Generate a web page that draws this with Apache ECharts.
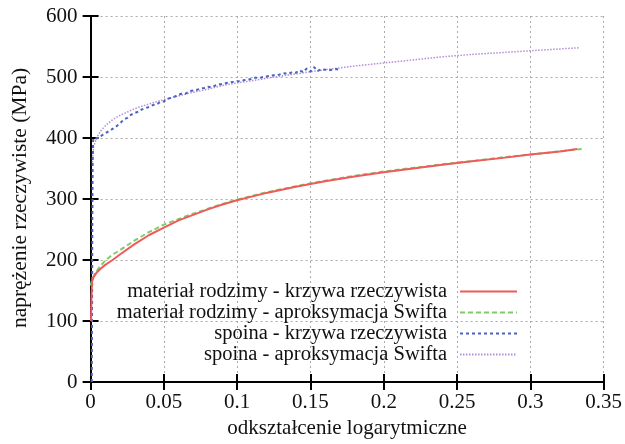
<!DOCTYPE html>
<html><head><meta charset="utf-8">
<script src="https://cdn.jsdelivr.net/npm/echarts@6/dist/echarts.min.js"></script>
<style>html,body{margin:0;padding:0;background:#fff}#c{width:625px;height:444px}</style>
</head><body><div id="c"></div>
<script>
var seriesNames = ['materiał rodzimy - krzywa rzeczywista','materiał rodzimy - aproksymacja Swifta','spoina - krzywa rzeczywista','spoina - aproksymacja Swifta'];
var xTitle = 'odkształcenie logarytmiczne';
var yTitle = 'naprężenie rzeczywiste (MPa)';

var baseRealEps = [0.0003,0.0006,0.001,0.002,0.004,0.007,0.01,0.015,0.02,0.03,0.04,0.05,0.06,0.07,0.08,0.09,0.1,0.12,0.14,0.16,0.18,0.2,0.22,0.24,0.26,0.28,0.3,0.32,0.332];
var baseRealVal = [100,140,165,172,179,186,192,200,209,226,241,253,265,274,283,291,298,310,320,329,337,344,350,356,362,367,373,378,382];

var baseSwiftEps = [0,0.001,0.003,0.006,0.01,0.015,0.02,0.03,0.04,0.05,0.06,0.07,0.08,0.09,0.1,0.12,0.14,0.16,0.18,0.2,0.22,0.24,0.26,0.28,0.3,0.32,0.335];
var baseSwiftVal = [158,168,178,188,199,209,216,232,246,258,267,276,284,292,299,311,321,330,338,345,351,357,362,368,373,378,382];

var weldRealEps = [0.0008,0.001,0.0012,0.0014,0.0017,0.002,0.003,0.004,0.005,0.0075,0.01,0.0125,0.015,0.0175,0.02,0.0225,0.025,0.0275,0.03,0.0325,0.035,0.0375,0.04,0.0425,0.045,0.0475,0.05,0.0525,0.055,0.0575,0.06,0.0625,0.065,0.0675,0.07,0.0725,0.075,0.0775,0.08,0.0825,0.085,0.0875,0.09,0.0925,0.095,0.0975,0.1,0.1025,0.105,0.1075,0.11,0.1125,0.115,0.1175,0.12,0.1225,0.125,0.1275,0.13,0.1325,0.135,0.1375,0.14,0.1425,0.145,0.1475,0.15,0.1525,0.155,0.1575,0.16,0.1625,0.165,0.1675,0.17];
var weldRealVal = [0,120,260,360,396,400,402,399,401,404,408,411,415,419,424,430,433,438,441,443,447,449,451,454,455,459,460,464,466,468,471,473,473,477,478,479,481,482,484,483,486,488,488,490,491,492,493,493,495,496,497,499,498,500,501,502,503,503,505,506,505,508,507,511,508,514,509,516,510,513,512,511,512,513,512];

var weldSwiftEps = [0.0012,0.002,0.004,0.007,0.01,0.015,0.02,0.03,0.04,0.05,0.06,0.07,0.08,0.09,0.1,0.12,0.14,0.16,0.18,0.2,0.22,0.24,0.26,0.28,0.3,0.32,0.334];
var weldSwiftVal = [360,385,400,412,420,430,437,448,456,463,469,475,480,486,490,498,505,512,518,523,528,533,537,540,543,546,548];

var xTicks = [0,0.05,0.1,0.15,0.2,0.25,0.3,0.35];
var yTicks = [0,100,200,300,400,500,600];

function pairs(a,b){return a.map(function(v,i){return [v,b[i]];});}
var FONT = "'Liberation Serif','DejaVu Serif',serif";
var colors = ['#f05a5a','#7ccc6a','#4a62c4','#b48ed6'];

var chart = echarts.init(document.getElementById('c'), null, {renderer:'canvas'});
var axisCommon = {
  axisLine:{show:true,lineStyle:{color:'#000',width:2}},
  axisTick:{show:true,inside:true,length:8,lineStyle:{color:'#000',width:2}}
};
function lineSeries(i, data, ls){
  return {name:seriesNames[i],type:'line',data:data,symbol:'none',showSymbol:false,
    lineStyle:Object.assign({color:colors[i]},ls),itemStyle:{color:colors[i]},
    z: 10 - i, silent:true, animation:false};
}
chart.setOption({
  animation:false,
  grid:{left:90.6,right:18.6,top:16,bottom:62},
  xAxis:[
    Object.assign({type:'value',min:xTicks[0],max:xTicks[xTicks.length-1],interval:0.05,position:'bottom',
      name:xTitle,nameLocation:'middle',nameGap:36,
      nameTextStyle:{fontFamily:FONT,fontSize:21,color:'#111'},
      axisLabel:{fontFamily:FONT,fontSize:21,color:'#111',margin:10,
        formatter:function(v){return String(parseFloat(v.toFixed(2)));}},
      splitLine:{show:true,lineStyle:{color:'#aaa',type:[2,3],width:1}}},axisCommon),
    Object.assign({type:'value',min:0,max:0.35,interval:0.05,position:'top',
      axisLabel:{show:false},splitLine:{show:false}},axisCommon)
  ],
  yAxis:[
    Object.assign({type:'value',min:yTicks[0],max:yTicks[yTicks.length-1],interval:100,position:'left',
      axisLabel:{fontFamily:FONT,fontSize:21,color:'#111',margin:13},
      splitLine:{show:true,lineStyle:{color:'#aaa',type:[2,3],width:1}}},axisCommon),
    Object.assign({type:'value',min:0,max:600,interval:100,position:'right',
      axisLabel:{show:false},splitLine:{show:false}},axisCommon)
  ],
  legend:{
    orient:'vertical',align:'right',right:102,top:276,itemWidth:57,itemHeight:10,itemGap:0,
    itemStyle:{opacity:0},
    textStyle:{fontFamily:FONT,fontSize:20.5,color:'#111',lineHeight:20,padding:[0,8,0,0]},
    data:seriesNames, selectedMode:false
  },
  graphic:[{type:'text',x:20,y:198,rotation:Math.PI/2,
    style:{text:yTitle,font:"21.5px "+FONT,fill:'#111',align:'center',verticalAlign:'middle'}}],
  series:[
    lineSeries(0,pairs(baseRealEps,baseRealVal),{width:2,type:'solid'}),
    lineSeries(1,pairs(baseSwiftEps,baseSwiftVal),{width:2,type:[5,3]}),
    lineSeries(2,pairs(weldRealEps,weldRealVal),{width:2,type:[3,3]}),
    lineSeries(3,pairs(weldSwiftEps,weldSwiftVal),{width:1.5,type:[1.5,1.5]})
  ]
});
</script></body></html>
